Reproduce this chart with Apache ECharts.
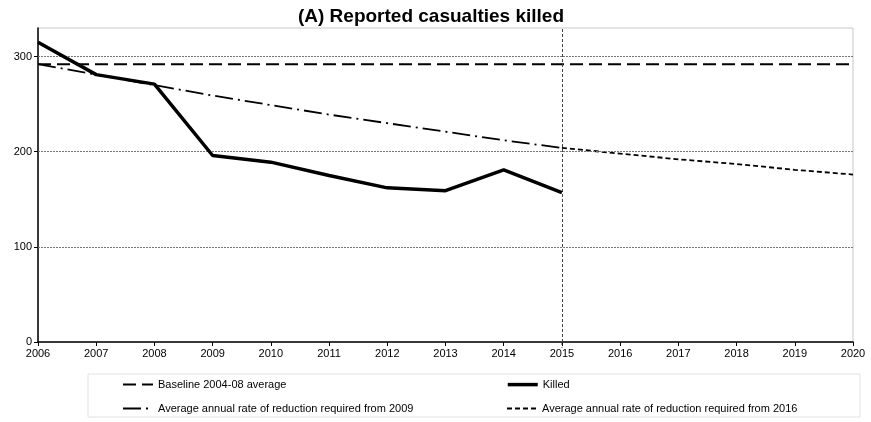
<!DOCTYPE html>
<html><head><meta charset="utf-8">
<script src="https://cdn.jsdelivr.net/npm/echarts@6/dist/echarts.min.js"></script>
<style>html,body{margin:0;padding:0;background:#fff}#c{width:871px;height:422px}</style>
</head><body><div id="c"></div>
<script>
const years = ['2006','2007','2008','2009','2010','2011','2012','2013','2014','2015','2016','2017','2018','2019','2020'];
const baseline = [292,292,292,292,292,292,292,292,292,292,292,292,292,292,292];
const killed = [315,281,271,196,189,175,162,159,181,157,null,null,null,null,null];
const reduction2009 = [292,281,270,259,249,239,230,221,212,204,null,null,null,null,null];
const reduction2016 = [null,null,null,null,null,null,null,null,null,204,198,192,187,181,176];
const gridValues = [100,200,300];
const markerYear = '2015';
const yTicks = {min:0, max:330, interval:100};

const FONT = 'Liberation Sans, Arial, sans-serif';
const chart = echarts.init(document.getElementById('c'));
const legendText = {fontFamily: FONT, fontSize: 11, color:'#000'};
const legendCommon = {itemWidth: 30, itemHeight: 10, itemGap: 0, textStyle: legendText, selectedMode:false, padding:0,
  itemStyle:{color:'rgba(0,0,0,0)', borderColor:'rgba(0,0,0,0)', borderWidth:0}};
chart.setOption({
  animation:false,
  backgroundColor:'#fff',
  title:{text:'(A) Reported casualties killed', left:426, top:2, textAlign:'center',
    textStyle:{fontFamily:FONT, fontSize:19, fontWeight:'bold', color:'#000'}},
  grid:{left:38, right:18, top:28, bottom:80, show:true, borderColor:'#c8c8c8', borderWidth:1, containLabel:false},
  xAxis:{type:'category', data:years, boundaryGap:false,
    axisLine:{lineStyle:{color:'#000', width:1.5}},
    axisTick:{show:true, length:4, lineStyle:{color:'#000'}},
    axisLabel:{fontFamily:FONT, fontSize:11, color:'#000', margin:6, interval:0},
    splitLine:{show:false}},
  yAxis:{type:'value', min:yTicks.min, max:yTicks.max, interval:yTicks.interval,
    axisLine:{show:true, lineStyle:{color:'#000', width:1.5}},
    axisTick:{show:true, length:4, lineStyle:{color:'#000'}},
    axisLabel:{fontFamily:FONT, fontSize:11, color:'#000', margin:6, showMaxLabel:false},
    splitLine:{show:false}},
  legend:[
    Object.assign({data:['Baseline 2004-08 average'], left:122, top:379}, legendCommon),
    Object.assign({}, legendCommon, {data:['Killed'], left:506, top:379, itemHeight:14, lineStyle:{width:3.5}}),
    Object.assign({data:['Average annual rate of reduction required from 2009'], left:122, top:403}, legendCommon),
    Object.assign({data:['Average annual rate of reduction required from 2016'], left:506, top:403}, legendCommon)
  ],
  series:[
    {name:'Baseline 2004-08 average', type:'line', data:baseline, symbol:'none', z:3,
      lineStyle:{color:'#000', width:2, type:[13,6]}, itemStyle:{color:'#000'},
      markLine:{silent:true, symbol:'none', label:{show:false},
        lineStyle:{color:'#777', width:1, type:[2,1]},
        data:gridValues.map(v=>({yAxis:v}))}},
    {name:'Killed', type:'line', data:killed, symbol:'none', z:5,
      lineStyle:{color:'#000', width:3.5}, itemStyle:{color:'#000'},
      markLine:{silent:true, symbol:'none', label:{show:false},
        lineStyle:{color:'#444', width:1, type:[3,2]},
        data:[{xAxis:markerYear}]}},
    {name:'Average annual rate of reduction required from 2009', type:'line', data:reduction2009, symbol:'none', z:4,
      lineStyle:{color:'#000', width:1.8, type:[18,5,2,5]}, itemStyle:{color:'#000'}},
    {name:'Average annual rate of reduction required from 2016', type:'line', data:reduction2016, symbol:'none', z:4,
      lineStyle:{color:'#000', width:1.8, type:[5,3]}, itemStyle:{color:'#000'}}
  ]
});
// extend the 2015 marker line slightly below the axis, as in the reference
const px = chart.convertToPixel({xAxisIndex:0}, markerYear);
const py = chart.convertToPixel({yAxisIndex:0}, yTicks.min);
chart.setOption({graphic:[
  {type:'rect', shape:{x:88, y:374, width:772, height:43}, style:{fill:'none', stroke:'#e2e2e2', lineWidth:1}, silent:true, z:-1},
  {type:'line', shape:{x1:px, y1:py, x2:px, y2:py+6}, style:{stroke:'#444', lineWidth:1, lineDash:[3,2]}, silent:true, z:10}
]});
</script></body></html>
